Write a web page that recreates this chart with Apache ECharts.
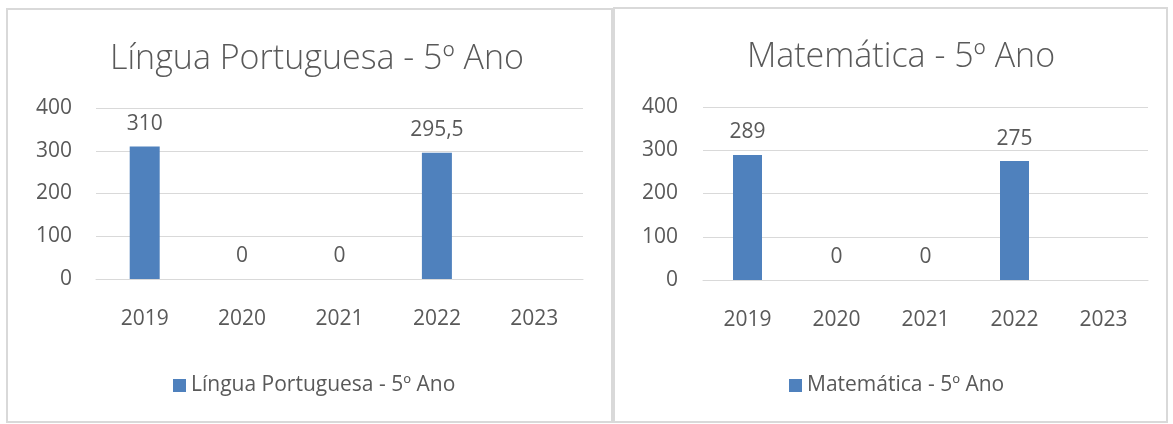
<!DOCTYPE html>
<html>
<head>
<meta charset="utf-8">
<script src="https://cdn.jsdelivr.net/npm/echarts@6/dist/echarts.min.js"></script>
<style>
  html, body { margin: 0; padding: 0; background: #fff; }
  #main { width: 1173px; height: 424px; }
</style>
</head>
<body>
<div id="main"></div>
<script>
var years = ['2019', '2020', '2021', '2022', '2023'];
var portTitle = 'Língua Portuguesa - 5º Ano';
var portValues = [310, 0, 0, 295.5, null];
var matTitle = 'Matemática - 5º Ano';
var matValues = [289, 0, 0, 275, null];
var yTicks = { min: 0, max: 400, interval: 100 };

var font = '"Open Sans", "Noto Sans", sans-serif';
var txt = '#595959';
var gridCol = '#D9D9D9';
var barCol = '#4F81BD';

var chart = echarts.init(document.getElementById('main'));

function fmtLabel(p) {
    if (p.value === null || p.value === undefined) return '';
    return String(p.value).replace('.', ',');
}

function makeX(idx, margin) {
    return {
        type: 'category',
        gridIndex: idx,
        data: years,
        axisLine: { lineStyle: { color: gridCol, width: 1 } },
        axisTick: { show: false },
        axisLabel: { color: txt, fontFamily: font, fontSize: 21, margin: margin }
    };
}
function makeY(idx, margin) {
    return {
        type: 'value',
        gridIndex: idx,
        min: yTicks.min,
        max: yTicks.max,
        interval: yTicks.interval,
        axisLine: { show: false },
        axisTick: { show: false },
        splitLine: { lineStyle: { color: gridCol, width: 1 } },
        axisLabel: { color: txt, fontFamily: font, fontSize: 21, margin: margin }
    };
}
function makeBar(name, data, idx, w) {
    return {
        type: 'bar',
        name: name,
        xAxisIndex: idx,
        yAxisIndex: idx,
        data: data,
        barWidth: w,
        itemStyle: { color: barCol },
        label: {
            show: true,
            position: 'top',
            distance: 12,
            color: txt,
            fontFamily: font,
            fontSize: 21,
            formatter: fmtLabel
        }
    };
}
function makeLegend(name, x) {
    return {
        data: [name], left: x, top: 375, padding: 0,
        itemWidth: 13, itemHeight: 13, itemGap: 7, icon: 'rect',
        textStyle: { color: txt, fontFamily: font, fontSize: 21 }
    };
}

chart.setOption({
    animation: false,
    graphic: [
        { type: 'rect', shape: { x: 7, y: 9, width: 605, height: 413 },
          style: { fill: 'none', stroke: gridCol, lineWidth: 2 } },
        { type: 'rect', shape: { x: 614, y: 8, width: 553, height: 414 },
          style: { fill: 'none', stroke: gridCol, lineWidth: 2 } }
    ],
    title: [
        { text: portTitle, left: 312, top: 37, textAlign: 'center',
          textStyle: { color: txt, fontFamily: font, fontSize: 34, fontWeight: 300 } },
        { text: matTitle, left: 896, top: 35, textAlign: 'center',
          textStyle: { color: txt, fontFamily: font, fontSize: 34, fontWeight: 300 } }
    ],
    legend: [makeLegend(portTitle, 173), makeLegend(matTitle, 789)],
    grid: [
        { left: 96, right: 590, top: 108, bottom: 145 },
        { left: 703, right: 25, top: 107, bottom: 144 }
    ],
    xAxis: [makeX(0, 30), makeX(1, 30)],
    yAxis: [makeY(0, 24), makeY(1, 25)],
    series: [
        makeBar(portTitle, portValues, 0, 30),
        makeBar(matTitle, matValues, 1, 29)
    ]
});
</script>
</body>
</html>
